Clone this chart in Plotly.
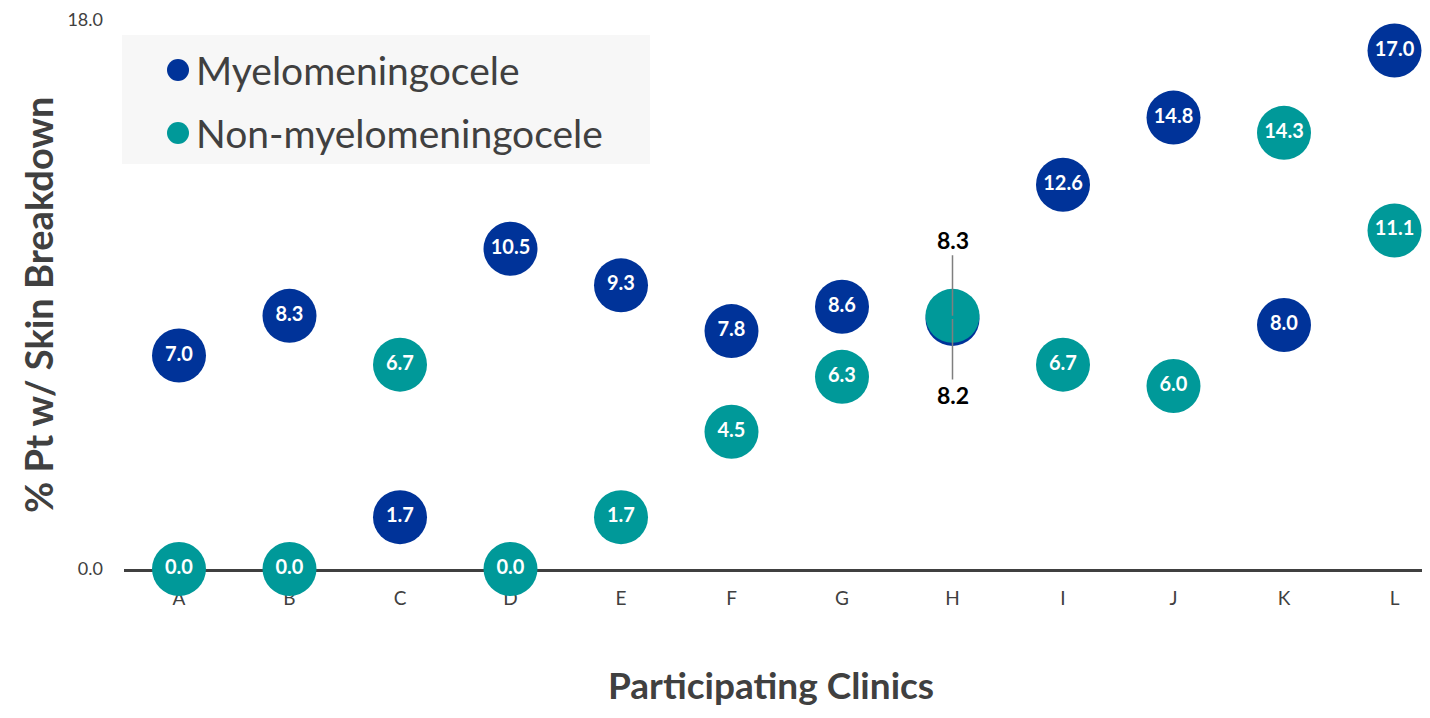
import plotly.graph_objects as go

clinics = ["A", "B", "C", "D", "E", "F", "G", "H", "I", "J", "K", "L"]
myelo = [7.0, 8.3, 1.7, 10.5, 9.3, 7.8, 8.6, 8.2, 12.6, 14.8, 8.0, 17.0]
non_myelo = [0.0, 0.0, 6.7, 0.0, 1.7, 4.5, 6.3, 8.3, 6.7, 6.0, 14.3, 11.1]
series_names = ["Myelomeningocele", "Non-myelomeningocele"]
y_ticks = [0.0, 18.0]
callout_clinic = "H"

BLUE = "#003399"
TEAL = "#009999"
GRAY = "#404040"
FONT = "Lato"

OFF = 8  # default page body margin
W, H = 1430 - 2 * OFF, 718 - 2 * OFF
# plot area in page pixels: left 124, top 20, bottom 569, right 1422
L = 124 - OFF
T = 20 - OFF
B = H - (569 - OFF)
R = 0
pw, ph = W - L - R, H - T - B


def px(x):  # page pixel -> paper
    return (x - OFF - L) / pw


def py(y):
    return (H - B - (y - OFF)) / ph


xs = list(range(len(clinics)))
ci = clinics.index(callout_clinic)


def labels(vals):
    return ["" if i == ci else f"{v:.1f}" for i, v in enumerate(vals)]


fig = go.Figure()
for vals, color in [(myelo, BLUE), (non_myelo, TEAL)]:
    fig.add_trace(go.Scatter(
        x=xs, y=vals, mode="markers+text",
        text=labels(vals), textposition="middle center",
        textfont=dict(family=FONT, size=20, color="white", weight="bold"),
        marker=dict(size=54, color=color, line=dict(width=0)),
        cliponaxis=False, showlegend=False, hoverinfo="x+y",
    ))

# callouts for overlapping clinic
fig.add_annotation(x=ci, y=non_myelo[ci], text=f"{non_myelo[ci]:.1f}",
                   showarrow=True, arrowhead=0, arrowwidth=1.5, arrowcolor="#7f7f7f",
                   ax=0, ay=-76, font=dict(family=FONT, size=23, color="black", weight="bold"))
fig.add_annotation(x=ci, y=myelo[ci], text=f"{myelo[ci]:.1f}",
                   showarrow=True, arrowhead=0, arrowwidth=1.5, arrowcolor="#7f7f7f",
                   ax=0, ay=76, font=dict(family=FONT, size=23, color="black", weight="bold"))

# manual legend
fig.add_shape(type="rect", xref="paper", yref="paper",
              x0=px(122), x1=px(650), y0=py(164), y1=py(35),
              fillcolor="#f7f7f7", line=dict(width=0), layer="below")
for name, color, yc in [(series_names[0], BLUE, 70), (series_names[1], TEAL, 133)]:
    fig.add_shape(type="circle", xref="paper", yref="paper",
                  xsizemode="pixel", ysizemode="pixel",
                  xanchor=px(178), yanchor=py(yc),
                  x0=-11, x1=11, y0=-11, y1=11,
                  fillcolor=color, line=dict(width=0))
    fig.add_annotation(xref="paper", yref="paper", x=px(194), y=py(yc),
                       xanchor="left", yanchor="middle", showarrow=False,
                       text=name, font=dict(family=FONT, size=39, color=GRAY))

# axis titles
fig.add_annotation(xref="paper", yref="paper", x=px(38), y=py(305),
                   xanchor="center", yanchor="middle",
                   text="% Pt w/ Skin Breakdown", textangle=-90, showarrow=False,
                   font=dict(family=FONT, size=38, color=GRAY, weight="bold"))
fig.add_annotation(xref="paper", yref="paper", x=px(771), y=py(709),
                   xanchor="center", yanchor="bottom",
                   text="Participating Clinics", showarrow=False,
                   font=dict(family=FONT, size=37, color=GRAY, weight="bold"))

fig.update_layout(
    width=W, height=H,
    margin=dict(l=L, r=R, t=T, b=B),
    plot_bgcolor="white", paper_bgcolor="white",
    showlegend=False,
    xaxis=dict(
        range=[-55 / 110.5, (1422 - 179) / 110.5],
        tickmode="array", tickvals=xs, ticktext=clinics,
        showgrid=False, zeroline=False,
        showline=True, linecolor=GRAY, linewidth=3,
        layer="below traces",
        ticks="", ticklabelstandoff=10,
        tickfont=dict(family=FONT, size=19, color=GRAY),
    ),
    yaxis=dict(
        range=[0, 18], tickmode="array", tickvals=y_ticks,
        ticktext=[f"{v:.1f}" for v in y_ticks],
        showgrid=True, gridcolor="#d0d0d0", gridwidth=1.5,
        zeroline=False, showline=False, ticks="",
        layer="below traces",
        ticklabelstandoff=20,
        tickfont=dict(family=FONT, size=18, color=GRAY),
    ),
)

fig.write_html("out.html")
